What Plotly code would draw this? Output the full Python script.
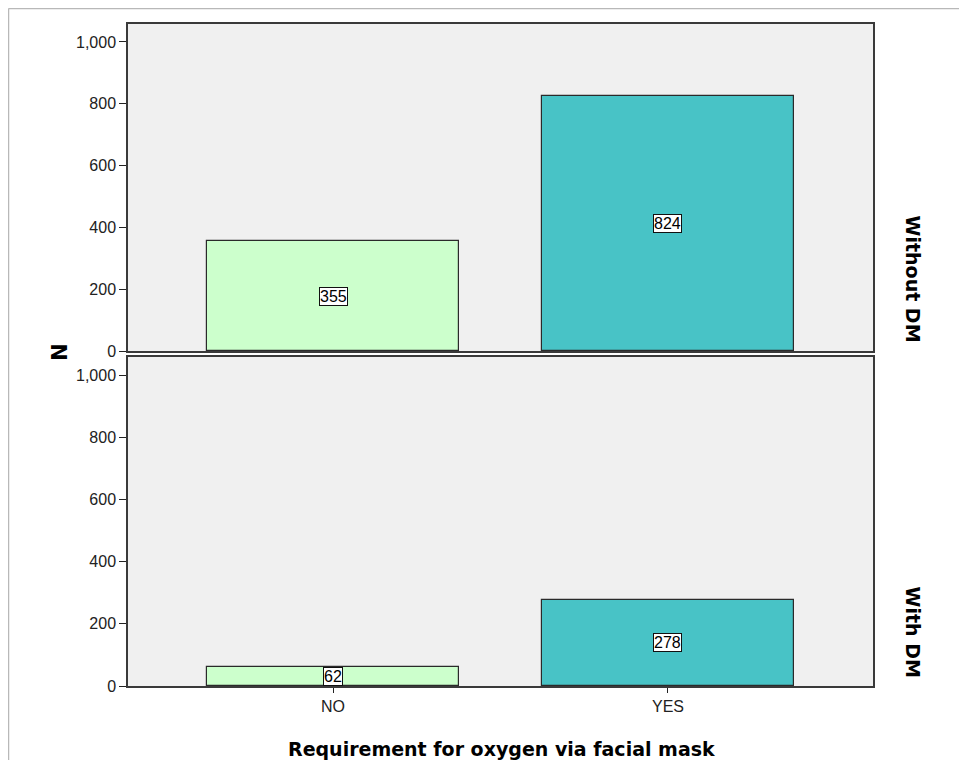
import plotly.graph_objects as go
from plotly.subplots import make_subplots

categories = ["NO", "YES"]
without_dm = [355, 824]
with_dm = [62, 278]
panel_labels = ["Without DM", "With DM"]
bar_colors = ["#ccffcc", "#48c3c6"]
y_ticks = [0, 200, 400, 600, 800, 1000]
x_title = "Requirement for oxygen via facial mask"
y_title = "N"

# page body has an 8px margin; all positions below are reference pixels minus 8
OFF = 8
W, H = 967 - OFF, 760 - OFF
L, R, T, B = 128 - OFF, 873 - OFF, 24 - OFF, 686 - OFF
pw, ph = R - L, B - T

def py(y):  # reference pixel y -> paper fraction
    return (B - (y - OFF)) / ph

def px(x):  # reference pixel x -> paper fraction
    return ((x - OFF) - L) / pw

fig = make_subplots(rows=2, cols=1, shared_xaxes=False, vertical_spacing=0)

top_dom = [py(351), 1.0]
bot_dom = [0.0, py(357)]

for i, vals in enumerate([without_dm, with_dm]):
    fig.add_trace(go.Bar(
        x=categories, y=vals, width=0.752,
        marker=dict(color=bar_colors, line=dict(color="#2a2a2a", width=1.2)),
        showlegend=False, hoverinfo="skip"),
        row=i + 1, col=1)
    for c, v in zip(categories, vals):
        fig.add_annotation(
            x=c, y=v / 2, xref=f"x{i+1 if i else ''}", yref=f"y{i+1 if i else ''}",
            text=str(v), showarrow=False,
            font=dict(family="Liberation Sans, Arial", size=16, color="#000"),
            bgcolor="white", bordercolor="#111", borderwidth=1, borderpad=0)

axis_common = dict(
    range=[-0.612, 1.612], showgrid=False, zeroline=False,
    showline=True, linecolor="#3a3a3a", linewidth=1.5, mirror=True,
    ticks="outside", ticklen=6, tickcolor="#222",
    tickfont=dict(family="Liberation Sans, Arial", size=16, color="#222"),
)
fig.update_xaxes(**axis_common)
fig.update_xaxes(showticklabels=False, ticks="", row=1, col=1)
fig.update_xaxes(ticklen=5, row=2, col=1)

yaxis_common = dict(
    range=[0, 1058], tickvals=y_ticks, tickformat=",d",
    showgrid=False, zeroline=False,
    showline=True, linecolor="#3a3a3a", linewidth=1.5, mirror=True,
    ticks="outside", ticklen=7, tickcolor="#222",
    tickfont=dict(family="Liberation Sans, Arial", size=16, color="#222"),
)
fig.update_yaxes(**yaxis_common)
fig.update_layout(
    yaxis=dict(domain=top_dom),
    yaxis2=dict(domain=bot_dom),
)

# strip labels
for i, lab in enumerate(panel_labels):
    ybot = py(351) if i == 0 else 0.0
    fig.add_annotation(
        x=px(913), y=ybot + 6 / ph, xref="paper", yref="paper",
        text=f"<b>{lab}</b>", textangle=90, showarrow=False,
        xanchor="center", yanchor="bottom",
        font=dict(family="DejaVu Sans", size=19, color="#000"))

# y title
fig.add_annotation(
    x=px(60), y=py(352), xref="paper", yref="paper",
    text=f"<b>{y_title}</b>", textangle=-90, showarrow=False,
    xanchor="center", yanchor="middle",
    font=dict(family="DejaVu Sans", size=21, color="#000"))

# x title
fig.add_annotation(
    x=px(501), y=py(749), xref="paper", yref="paper",
    text=f"<b>{x_title}</b>", showarrow=False,
    xanchor="center", yanchor="middle",
    font=dict(family="DejaVu Sans", size=19, color="#000"))

# outer frame lines (at the page edge of the figure)
fx = -L / pw + 0.5 / pw
fy = 1 + (T - 0.5) / ph
fig.add_shape(type="line", xref="paper", yref="paper", x0=fx, x1=1.2, y0=fy, y1=fy,
              line=dict(color="#b8b8b8", width=1.5))
fig.add_shape(type="line", xref="paper", yref="paper", x0=fx, x1=fx, y0=fy, y1=-0.2,
              line=dict(color="#b8b8b8", width=1.5))

fig.update_layout(
    width=W, height=H,
    margin=dict(l=L, r=W - R, t=T, b=H - B),
    plot_bgcolor="#f0f0f0", paper_bgcolor="white",
    bargap=0,
)

fig.write_html("out.html")
